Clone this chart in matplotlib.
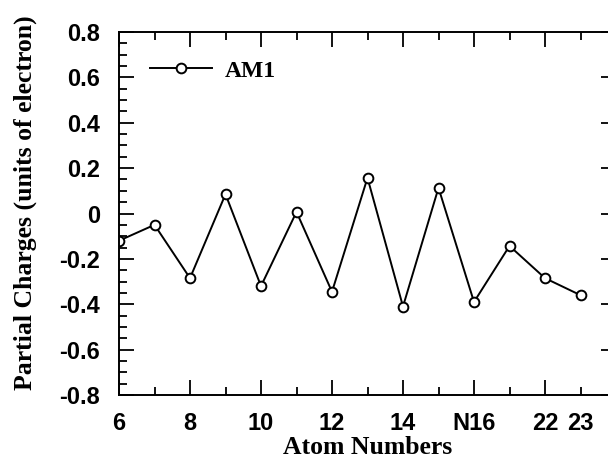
import matplotlib
matplotlib.use("Agg")
import matplotlib.pyplot as plt
from matplotlib.ticker import FuncFormatter, MultipleLocator

# atom labels along the x axis (one point per atom)
atoms = ["6", "7", "8", "9", "10", "11", "12", "13", "14", "15", "N16", "17", "22", "23"]
am1 = [-0.12, -0.05, -0.285, 0.085, -0.32, 0.007, -0.345, 0.157,
       -0.41, 0.113, -0.39, -0.143, -0.285, -0.36]

plt.rcParams["axes.unicode_minus"] = False
tick_font = {"family": "Liberation Sans", "weight": "bold", "size": 17}
label_font = {"family": "Liberation Serif", "weight": "bold", "size": 18.5}

fig = plt.figure(figsize=(6.08, 4.63), dpi=100)
ax = fig.add_axes([119 / 608, 68 / 463, 497 / 608, 363 / 463])

x = list(range(len(atoms)))
ax.plot(x, am1, "-o", color="black", lw=1.4, ms=7, mew=1.4,
        mfc="white", mec="black", label="AM1")

ax.set_xlim(0, 14)
ax.set_ylim(-0.8, 0.8)

# labelled ticks: every other atom, plus the last one
major = x[:-1:2]
minor = x[1::2]
ax.set_xticks(major, [atoms[i] for i in major])
ax.set_xticks(minor, ["" if i != len(atoms) - 1 else atoms[i] for i in minor], minor=True)

ax.yaxis.set_major_locator(MultipleLocator(0.2))
ax.yaxis.set_minor_locator(MultipleLocator(0.05))
ax.yaxis.set_major_formatter(FuncFormatter(lambda v, p: "0" if abs(v) < 1e-9 else f"{v:.1f}"))

ax.tick_params(which="both", direction="in", top=True, right=True, width=1.3)
ax.tick_params(axis="y", which="both", pad=13.5)
ax.tick_params(axis="x", which="both", pad=12.5)
ax.tick_params(which="major", length=11)
ax.tick_params(which="minor", length=6)
ax.tick_params(axis="y", which="minor", right=False)

for lab in ax.get_xticklabels(which="both") + ax.get_yticklabels():
    lab.set_fontfamily(tick_font["family"])
    lab.set_fontweight(tick_font["weight"])
    lab.set_fontsize(tick_font["size"])

for s in ax.spines.values():
    s.set_linewidth(1.4)

ax.set_xlabel("Atom Numbers", fontdict=label_font)
ax.set_ylabel("Partial Charges (units of electron)", fontdict=label_font)
ax.xaxis.set_label_coords(0.5, -0.112)
ax.yaxis.set_label_coords(-0.165, 0.53)

ax.legend(loc="center left", bbox_to_anchor=(31 / 497, 0.8926), frameon=False,
          borderpad=0, borderaxespad=0, handlelength=2.63, handletextpad=0.55,
          prop={"family": "Liberation Serif", "weight": "bold", "size": 17})

fig.savefig("out.png", dpi=100)
